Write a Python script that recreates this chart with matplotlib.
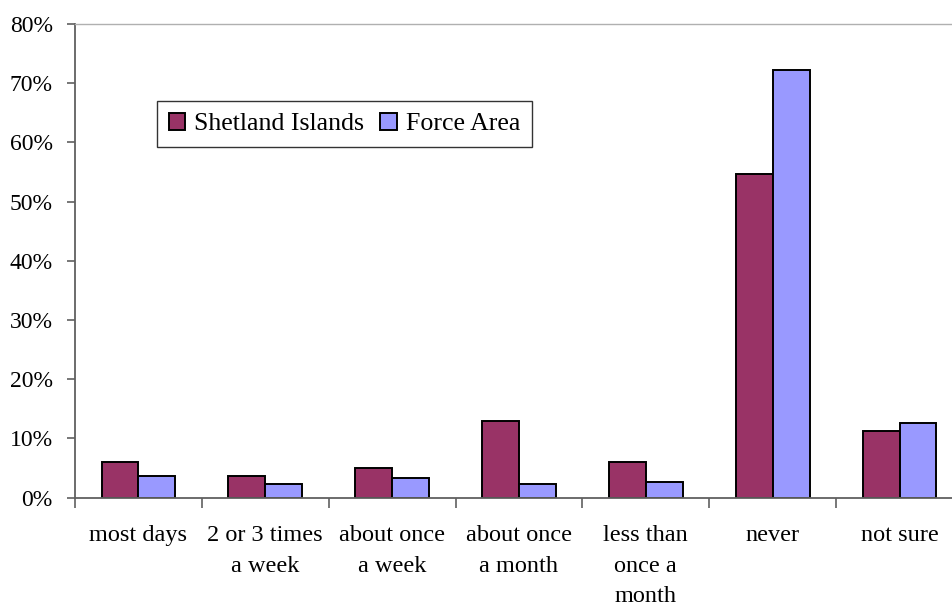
import numpy as np
import matplotlib.pyplot as plt
from matplotlib.ticker import PercentFormatter

categories = ['most days', '2 or 3 times\na week', 'about once\na week',
              'about once\na month', 'less than\nonce a\nmonth', 'never', 'not sure']
shetland = [6.0, 3.6, 5.0, 13.0, 6.0, 54.7, 11.3]
force = [3.6, 2.3, 3.3, 2.3, 2.7, 72.3, 12.6]
series_names = ['Shetland Islands', 'Force Area']

plt.rcParams['font.family'] = ['Liberation Serif', 'DejaVu Serif']

fig = plt.figure(figsize=(9.53, 6.08), dpi=100)
W, H = 953, 608
ax = fig.add_axes([75 / W, (H - 497.5) / H, (963 - 75) / W, (497.5 - 24) / H])

x = np.arange(len(categories))
w = 0.29
ax.bar(x - w / 2, shetland, w, color='#993366', edgecolor='black', linewidth=1.4,
       label=series_names[0])
ax.bar(x + w / 2, force, w, color='#9999FF', edgecolor='black', linewidth=1.4,
       label=series_names[1])

ax.set_xlim(-0.5, len(categories) - 0.5)
ax.set_ylim(0, 80)
ax.set_yticks(np.arange(0, 81, 10))
ax.yaxis.set_major_formatter(PercentFormatter(decimals=0))

ax.set_xticks(np.arange(-0.5, len(categories), 1.0))
ax.set_xticklabels([])
ax.set_xticks(x, minor=True)
ax.set_xticklabels(categories, minor=True, linespacing=1.6, va='top')
ax.tick_params(axis='x', which='minor', length=0, pad=20, labelsize=17.5)
ax.tick_params(axis='x', which='major', length=7, width=1.2, color='#606060')
ax.tick_params(axis='y', length=6, width=1.2, color='#606060', labelsize=17, pad=10)

for side in ['left', 'bottom']:
    ax.spines[side].set_color('#606060')
    ax.spines[side].set_linewidth(1.3)
for side in ['top', 'right']:
    ax.spines[side].set_color('#b0b0b0')
    ax.spines[side].set_linewidth(1.0)

leg = ax.legend(loc='upper left', bbox_to_anchor=(157 / W, 1 - 101 / H),
                bbox_transform=fig.transFigure, ncol=2, fontsize=18.6,
                frameon=True, fancybox=False, borderaxespad=0,
                handlelength=0.65, handleheight=0.65, handletextpad=0.35,
                columnspacing=0.6, borderpad=0.45)
leg.get_frame().set_edgecolor('black')
leg.get_frame().set_linewidth(1.0)

fig.savefig('out.png', dpi=100)
